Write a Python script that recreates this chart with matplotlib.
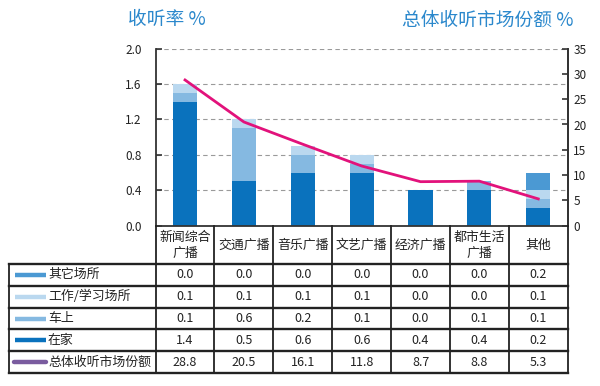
import matplotlib
matplotlib.use('Agg')
import matplotlib.pyplot as plt
from matplotlib.lines import Line2D
from matplotlib.transforms import blended_transform_factory
import numpy as np

plt.rcParams['font.family'] = ['Noto Sans CJK SC', 'DejaVu Sans']

# ---------------- data ----------------
categories = ['新闻综合\n广播', '交通广播', '音乐广播', '文艺广播', '经济广播', '都市生活\n广播', '其他']
home = [1.4, 0.5, 0.6, 0.6, 0.4, 0.4, 0.2]       # 在家
car = [0.1, 0.6, 0.2, 0.1, 0.0, 0.1, 0.1]        # 车上
work = [0.1, 0.1, 0.1, 0.1, 0.0, 0.0, 0.1]       # 工作/学习场所
other = [0.0, 0.0, 0.0, 0.0, 0.0, 0.0, 0.2]      # 其它场所
share = [28.8, 20.5, 16.1, 11.8, 8.7, 8.8, 5.3]  # 总体收听市场份额
left_ticks = [0.0, 0.4, 0.8, 1.2, 1.6, 2.0]
right_ticks = [0, 5, 10, 15, 20, 25, 30, 35]

row_names = ['其它场所', '工作/学习场所', '车上', '在家', '总体收听市场份额']
row_values = [other, work, car, home, share]

c_home = '#0a72bd'
c_car = '#85b9e1'
c_work = '#bad8ef'
c_other = '#4b99d3'
c_line = '#e2127b'
c_legend_line = '#7a5c9f'
row_colors = [c_other, c_work, c_car, c_home, c_legend_line]
title_color = '#2b88cc'

W, H = 600, 386
fig = plt.figure(figsize=(W / 100, H / 100), dpi=100)

ax_l, ax_r = 155.6, 567.7
ax_top, ax_bot = 48.6, 225.7
ax = fig.add_axes([ax_l / W, 1 - ax_bot / H, (ax_r - ax_l) / W, (ax_bot - ax_top) / H])

x = np.arange(len(categories))
bw = 0.41
b1 = np.array(home)
b2 = b1 + np.array(car)
b3 = b2 + np.array(work)
ax.bar(x, home, bw, color=c_home, zorder=2)
ax.bar(x, car, bw, bottom=b1, color=c_car, zorder=2)
ax.bar(x, work, bw, bottom=b2, color=c_work, zorder=2)
ax.bar(x, other, bw, bottom=b3, color=c_other, zorder=2)

ax.set_xlim(-0.5, len(categories) - 0.5)
ax.set_ylim(0, 2.0)
ax.set_yticks(left_ticks)
ax.set_yticklabels([f'{v:.1f}' for v in left_ticks])
ax.set_xticks([])
for v in left_ticks[1:]:
    ax.axhline(v, color='#9a9a9a', lw=0.8, ls=(0, (4, 3)), zorder=1)
ax.spines['top'].set_visible(False)
for s in ['left', 'right', 'bottom']:
    ax.spines[s].set_color('#333333')
    ax.spines[s].set_linewidth(1.3)
ax.tick_params(axis='y', direction='in', length=4, width=1.2, color='#333333',
               labelsize=8.5, pad=10, labelcolor='#222222')

ax2 = ax.twinx()
ax2.plot(x, share, color=c_line, lw=2.0, zorder=5)
ax2.set_ylim(0, 35)
ax2.set_yticks(right_ticks)
ax2.set_yticklabels([str(v) for v in right_ticks])
for s in ['top', 'left', 'bottom']:
    ax2.spines[s].set_visible(False)
ax2.spines['right'].set_color('#333333')
ax2.spines['right'].set_linewidth(1.3)
ax2.tick_params(axis='y', direction='in', length=4, width=1.2, color='#333333',
                labelsize=8.5, pad=4, labelcolor='#222222')

# titles
fig.text(167 / W, 1 - 20 / H, '收听率 %', color=title_color, fontsize=13.5,
         ha='center', va='center')
fig.text(488 / W, 1 - 20 / H, '总体收听市场份额 %', color=title_color, fontsize=13.5,
         ha='center', va='center')

# ---------------- table ----------------
def fy(py):
    return 1 - py / H

bt = blended_transform_factory(ax.transData, fig.transFigure)
ft = fig.transFigure
lc = '#222222'
lw = 1.3

header_top, header_bot = ax_bot, 264.0
row_h = 21.8
n_rows = len(row_names)
tab_bot = header_bot + n_rows * row_h
tab_left = 9.0

# category header row
for i, cat in enumerate(categories):
    fig.text(i, fy((header_top + header_bot) / 2 + 0.5), cat, transform=bt, ha='center',
             va='center', fontsize=9.3, linespacing=1.25, color='#222222')
# vertical lines in category columns
for i in range(len(categories) + 1):
    xb = i - 0.5
    fig.add_artist(Line2D([xb, xb], [fy(header_top), fy(tab_bot)], transform=bt,
                          color=lc, lw=lw))
# label column left edge
fig.add_artist(Line2D([tab_left / W, tab_left / W], [fy(header_bot), fy(tab_bot)],
                      transform=ft, color=lc, lw=lw))
# horizontal lines
for k in range(n_rows + 1):
    yy = fy(header_bot + k * row_h)
    fig.add_artist(Line2D([tab_left / W, ax_r / W], [yy, yy], transform=ft,
                          color=lc, lw=lw + 0.4))

for r, (name, vals, col) in enumerate(zip(row_names, row_values, row_colors)):
    yc = fy(header_bot + (r + 0.5) * row_h)
    if r == n_rows - 1:
        fig.add_artist(Line2D([14 / W, 46 / W], [yc, yc], transform=ft, color=col,
                              lw=3.2, solid_capstyle='round'))
    else:
        fig.add_artist(Line2D([15 / W, 46 / W], [yc, yc], transform=ft, color=col,
                              lw=3.2, solid_capstyle='butt'))
    fig.text(48 / W, yc, name, transform=ft, ha='left', va='center', fontsize=9.3,
             color='#222222')
    for i, v in enumerate(vals):
        fig.text(i, yc, f'{v:.1f}', transform=bt, ha='center', va='center',
                 fontsize=9, color='#222222')

fig.savefig('out.png', dpi=100)
